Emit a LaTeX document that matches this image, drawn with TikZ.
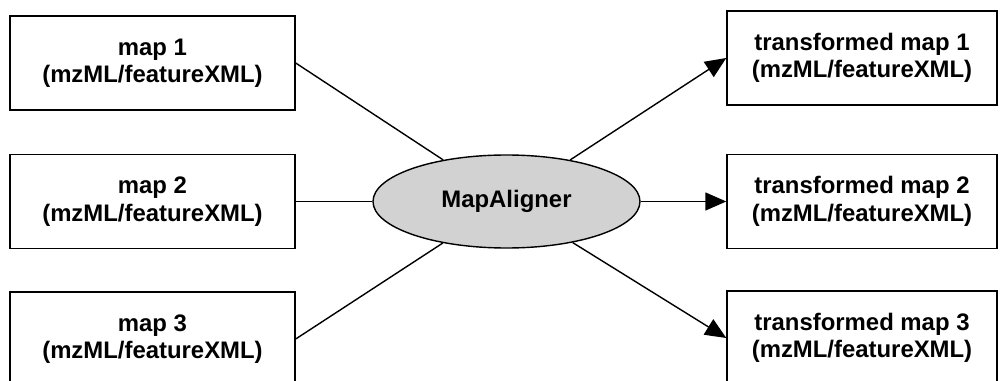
\documentclass[tikz,border=0pt]{standalone}
\usepackage{fontspec}
\setmainfont{Liberation Sans}
\usetikzlibrary{arrows.meta,shapes}
\tikzstyle{map}=[draw, line width=0.8pt, text centered, align=center,
  minimum width=5.7cm, minimum height=1.88cm, inner sep=0pt,
  font=\fontsize{13.6}{15.6}\selectfont\bfseries]
\tikzstyle{tmap}=[map, minimum width=5.4cm]
\tikzstyle{tool}=[draw, ellipse, fill=gray!35, line width=0.8pt,
  minimum width=5.34cm, minimum height=1.86cm, inner sep=0pt,
  font=\fontsize{13.6}{15.6}\selectfont\bfseries]
\tikzstyle{flow}=[line width=0.8pt]

\begin{document}
\begin{tikzpicture}
  \useasboundingbox (-10.13,-3.59) rectangle (9.87,4.03);

  \node(aligner)[tool]{MapAligner};

  \path(aligner)+(-7.08,2.77) node(map1)[map]{
    map 1\\
    (mzML/featureXML)
  };
  \draw[flow] (map1.east) -- (aligner);

  \path(aligner)+(-7.08,0) node(map2)[map]{
    map 2\\
    (mzML/featureXML)
  };
  \draw[flow] (map2.east) -- (aligner);

  \path(aligner)+(-7.08,-2.75) node(map3)[map]{
    map 3\\
    (mzML/featureXML)
  };
  \draw[flow] (map3.east) -- (aligner);

  \path(aligner)+(7.11,2.87) node(tmap1)[tmap]{
    transformed map 1\\
    (mzML/featureXML)
  };
  \draw[flow,-{Triangle[length=0.42cm,width=0.36cm]}] (aligner) -- (tmap1.west);

  \path(aligner)+(7.11,0) node(tmap2)[tmap]{
    transformed map 2\\
    (mzML/featureXML)
  };
  \draw[flow,-{Triangle[length=0.42cm,width=0.36cm]}] (aligner) -- (tmap2.west);

  \path(aligner)+(7.11,-2.73) node(tmap3)[tmap]{
    transformed map 3\\
    (mzML/featureXML)
  };
  \draw[flow,-{Triangle[length=0.42cm,width=0.36cm]}] (aligner) -- (tmap3.west);
\end{tikzpicture}
\end{document}
